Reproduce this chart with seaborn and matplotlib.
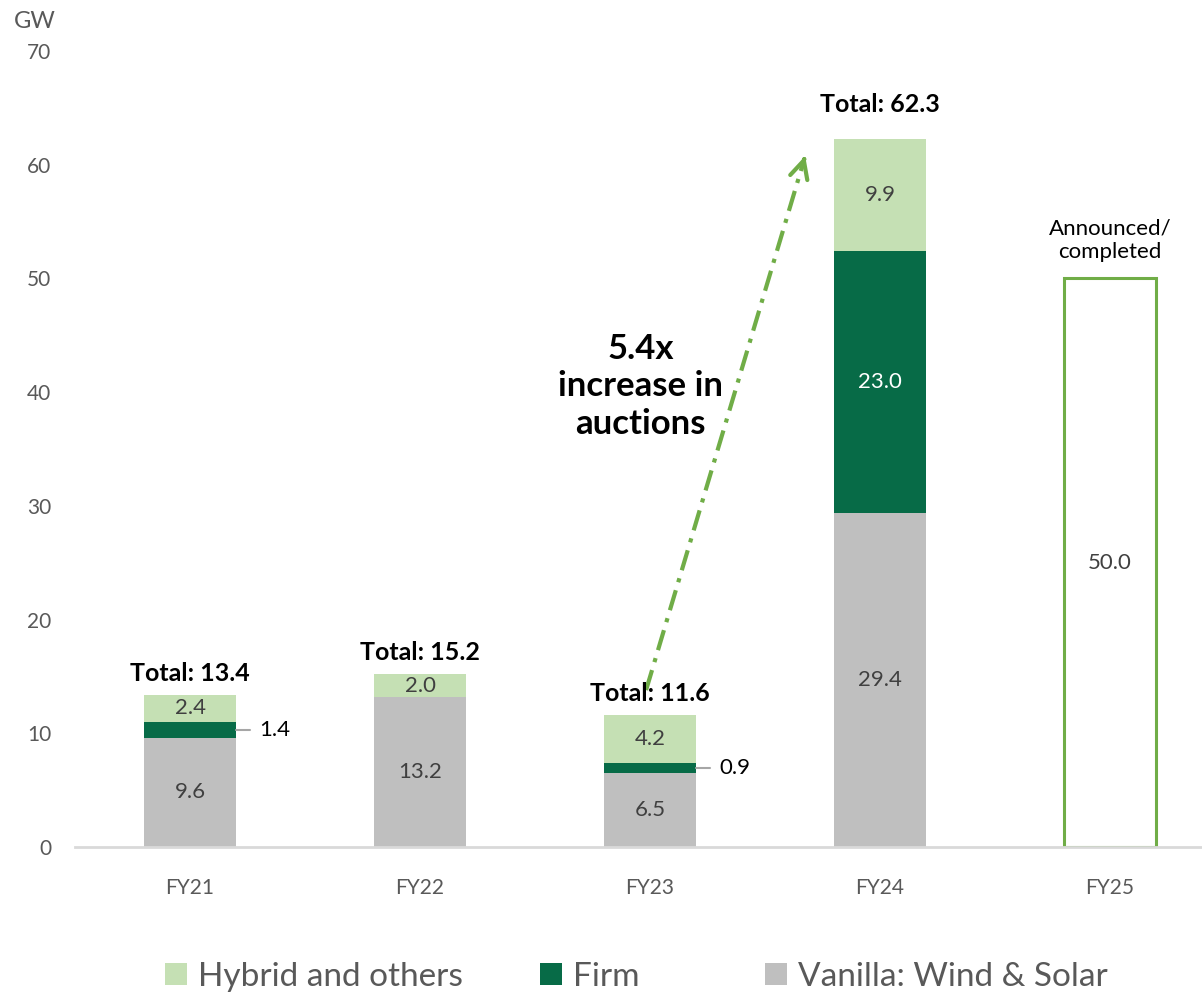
import matplotlib
matplotlib.use("Agg")
import matplotlib.pyplot as plt
import seaborn as sns
import pandas as pd
from matplotlib.patches import Patch

# ---- data ----
categories = ["FY21", "FY22", "FY23", "FY24", "FY25"]
vanilla = [9.6, 13.2, 6.5, 29.4, 0.0]
firm = [1.4, 0.0, 0.9, 23.0, 0.0]
hybrid = [2.4, 2.0, 4.2, 9.9, 0.0]
totals = [13.4, 15.2, 11.6, 62.3, None]
announced = [0.0, 0.0, 0.0, 0.0, 50.0]
y_ticks = [0, 10, 20, 30, 40, 50, 60, 70]
legend_labels = ["Hybrid and others", "Firm", "Vanilla: Wind & Solar"]

C_HYB = "#C5E0B4"
C_FIRM = "#076B47"
C_VAN = "#BFBFBF"
C_OUT = "#70AD47"
FONT = ["Lato", "DejaVu Sans"]

sns.set_theme(style="white")
plt.rcParams["font.family"] = FONT

fig = plt.figure(figsize=(12.02, 9.99), dpi=100)
ax = fig.add_axes([75 / 1202, 152 / 999, 1150 / 1202, 796 / 999])

df = pd.DataFrame({
    "cat": categories,
    "van": vanilla,
    "vf": [v + f for v, f in zip(vanilla, firm)],
    "tot": [v + f + h for v, f, h in zip(vanilla, firm, hybrid)],
    "ann": announced,
})

# stacked bars drawn back to front
sns.barplot(data=df, x="cat", y="tot", order=categories, color=C_HYB,
            width=0.4, saturation=1, linewidth=0, ax=ax)
sns.barplot(data=df, x="cat", y="vf", order=categories, color=C_FIRM,
            width=0.4, saturation=1, linewidth=0, ax=ax)
sns.barplot(data=df, x="cat", y="van", order=categories, color=C_VAN,
            width=0.4, saturation=1, linewidth=0, ax=ax)
df_ann = df[df["ann"] > 0]
sns.barplot(data=df_ann, x="cat", y="ann", order=categories, color=C_OUT,
            width=0.4, fill=False, linewidth=2.2, saturation=1, ax=ax)

ax.set_xlim(-0.5, 4.5)
ax.set_ylim(0, 70)
ax.set_yticks(y_ticks)
ax.set_xlabel("")
ax.set_ylabel("")
for s in ["top", "right", "left"]:
    ax.spines[s].set_visible(False)
ax.spines["bottom"].set_color("#D9D9D9")
ax.spines["bottom"].set_linewidth(2)
ax.tick_params(axis="y", length=0, labelsize=15, labelcolor="#595959", pad=17)
ax.tick_params(axis="x", length=0, labelsize=15, labelcolor="#595959", pad=22)
ax.grid(False)

SEG = 16
# segment labels
for i, cat in enumerate(categories):
    v, f, h = vanilla[i], firm[i], hybrid[i]
    if v > 0:
        ax.text(i, v / 2, f"{v:.1f}", ha="center", va="center", fontsize=SEG, color="#404040")
    if h > 0:
        ax.text(i, v + f + h / 2, f"{h:.1f}", ha="center", va="center", fontsize=SEG, color="#404040")
    if f > 0:
        yc = v + f / 2
        if f >= 5:
            ax.text(i, yc, f"{f:.1f}", ha="center", va="center", fontsize=SEG, color="white")
        else:
            ax.plot([i + 0.2, i + 0.26], [yc, yc], color="#A6A6A6", lw=1.5)
            ax.text(i + 0.3, yc, f"{f:.1f}", ha="left", va="center", fontsize=SEG, color="black")
    if totals[i] is not None:
        off = 16 if i == 3 else 7
        ax.annotate(f"Total: {totals[i]:.1f}", (i, totals[i]), xytext=(0, off),
                    textcoords="offset points", ha="center", va="bottom",
                    fontsize=18, fontweight="bold", color="black")
    if announced[i] > 0:
        ax.text(i, announced[i] / 2, f"{announced[i]:.1f}", ha="center", va="center",
                fontsize=SEG, color="#404040")
        ax.annotate("Announced/\ncompleted", (i, announced[i]), xytext=(0, 12),
                    textcoords="offset points", ha="center", va="bottom",
                    fontsize=16, color="black", linespacing=1.2)

# growth arrow
x0, y0, x1, y1 = 1.983, 13.8, 2.678, 61.0
ax.plot([x0, x1 - 0.01], [y0, y1 - 0.7], color=C_OUT, lw=3,
        linestyle=(0, (5, 2, 1, 2)), solid_capstyle="butt")
ax.annotate("", xy=(x1, y1), xytext=(x1 - 0.012, y1 - 0.82),
            arrowprops=dict(arrowstyle="->", color=C_OUT, lw=3, mutation_scale=32))
ax.text(1.96, 40.5, "5.4x\nincrease in\nauctions", ha="center", va="center",
        fontsize=25, fontweight="bold", color="black", linespacing=1.2)

# unit label
fig.text(35 / 1202, 1 - 22 / 999, "GW", ha="center", va="center", fontsize=17, color="#595959")

# legend: three separate entries
colors = [C_HYB, C_FIRM, C_VAN]
xs = [165 / 1202, 540 / 1202, 765 / 1202]
for lab, col, x in zip(legend_labels, colors, xs):
    fig.legend(handles=[Patch(facecolor=col, edgecolor="none", label=lab)],
               loc="center left", bbox_to_anchor=(x, 22 / 999), frameon=False,
               fontsize=24, handlelength=0.65, handleheight=0.65, handletextpad=0.35,
               borderpad=0, borderaxespad=0, labelcolor="#595959")

fig.savefig("out.png", dpi=100)
